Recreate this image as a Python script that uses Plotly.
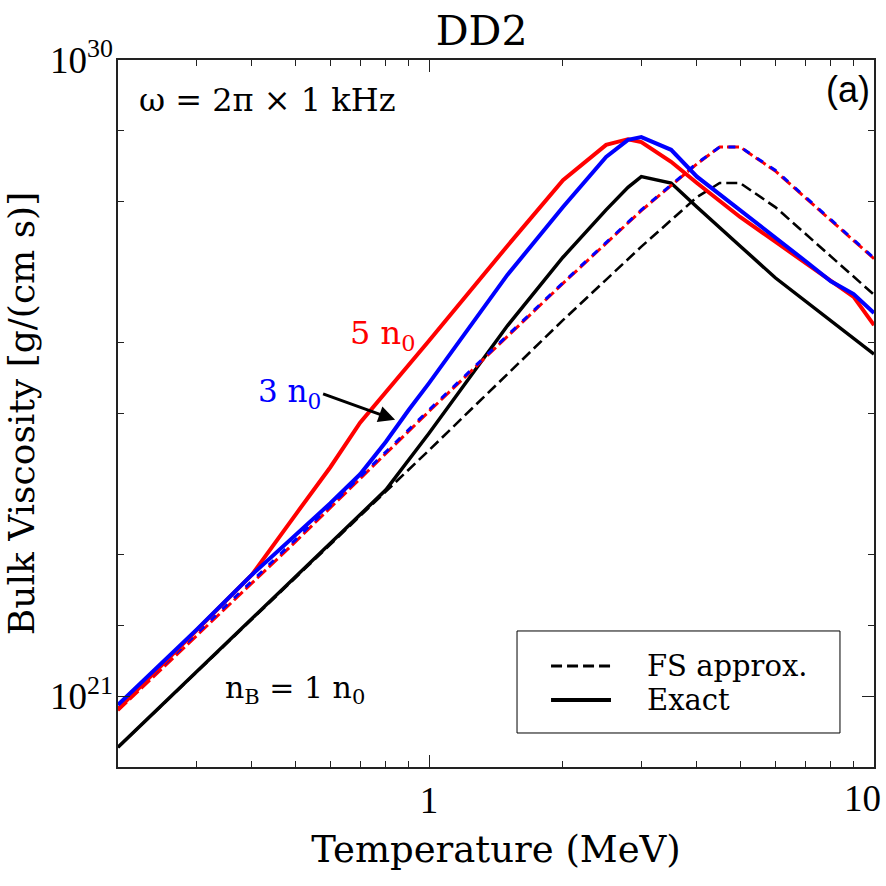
import numpy as np
import plotly.graph_objects as go

# ---------------- data ----------------
# Temperature in MeV, bulk viscosity as log10(eta [g/(cm s)])
T_5n0_exact = [0.2, 0.3, 0.4, 0.5, 0.6, 0.7, 0.8, 1.0, 1.5, 2.0, 2.5, 2.8, 3.0, 3.5, 4.0, 5.0, 6.0, 7.0, 8.0, 9.0, 10.0]
log_eta_5n0_exact = [20.82, 21.92, 22.72, 23.56, 24.24, 24.87, 25.30, 26.03, 27.37, 28.30, 28.80, 28.88, 28.84,
                     28.56, 28.26, 27.78, 27.43, 27.13, 26.87, 26.65, 26.25]

T_3n0_exact = [0.2, 0.3, 0.4, 0.5, 0.6, 0.7, 0.8, 0.9, 1.0, 1.5, 2.0, 2.5, 2.8, 3.0, 3.5, 4.0, 5.0, 6.0, 7.0, 8.0, 9.0, 10.0]
log_eta_3n0_exact = [20.88, 21.94, 22.72, 23.27, 23.73, 24.14, 24.60, 25.05, 25.43, 26.96, 27.92, 28.63, 28.87,
                     28.91, 28.73, 28.35, 27.88, 27.48, 27.16, 26.87, 26.69, 26.42]

T_fs = [0.2, 0.5, 1.0, 2.0, 3.0, 4.0, 4.5, 5.0, 6.0, 10.0]
log_eta_5n0_fs = [20.80, 23.18, 25.03, 26.84, 27.87, 28.53, 28.77, 28.77, 28.43, 27.19]
log_eta_3n0_fs = [20.83, 23.21, 25.05, 26.85, 27.88, 28.54, 28.77, 28.77, 28.44, 27.20]

T_1n0_exact = [0.2, 0.5, 0.8, 1.0, 1.5, 2.0, 2.5, 2.8, 3.0, 3.5, 4.0, 5.0, 6.0, 10.0]
log_eta_1n0_exact = [20.28, 22.69, 23.92, 24.72, 26.24, 27.21, 27.88, 28.20, 28.35, 28.26, 27.92, 27.37, 26.92, 25.84]

T_1n0_fs = [0.2, 1.0, 2.0, 3.0, 4.0, 4.5, 5.0, 6.0, 10.0]
log_eta_1n0_fs = [20.28, 24.48, 26.32, 27.36, 28.06, 28.26, 28.26, 27.92, 26.68]

x_tick_vals = [1]
x_tick_text = ["1"]
x_edge_tick_val = 10          # labelled at the right frame edge
x_edge_tick_text = "10"
x_minor_vals = [0.3, 0.4, 0.5, 0.6, 0.7, 0.8, 0.9, 2, 3, 4, 5, 6, 7, 8, 9]
y_tick_vals = [1e21, 1e30]
y_tick_text = ["10<sup>21</sup>", "10<sup>30</sup>"]
y_long_unlabeled = [1e24, 1e27]
y_minor_vals = [1e22, 1e23, 1e25, 1e26, 1e28, 1e29]

legend_labels = ["FS approx.", "Exact"]

FONT = "DejaVu Serif"
TICKFONT = "Liberation Serif"
RED = "#ff0000"
BLUE = "#0000ff"
BLACK = "#000000"
AX = "#222222"


def ev(logs):
    return np.power(10.0, np.array(logs))


fig = go.Figure()

fig.add_trace(go.Scatter(x=T_1n0_fs, y=ev(log_eta_1n0_fs), mode="lines", name="1 n0 FS approx.",
                         line=dict(color=BLACK, width=2.6, dash="11px,5px")))
fig.add_trace(go.Scatter(x=T_1n0_exact, y=ev(log_eta_1n0_exact), mode="lines", name="1 n0 Exact",
                         line=dict(color=BLACK, width=3.5)))
fig.add_trace(go.Scatter(x=T_fs, y=ev(log_eta_5n0_fs), mode="lines", name="5 n0 FS approx.",
                         line=dict(color=RED, width=3, dash="12px,4px")))
fig.add_trace(go.Scatter(x=T_fs, y=ev(log_eta_3n0_fs), mode="lines", name="3 n0 FS approx.",
                         line=dict(color=BLUE, width=3, dash="7px,9px")))
fig.add_trace(go.Scatter(x=T_5n0_exact, y=ev(log_eta_5n0_exact), mode="lines", name="5 n0 Exact",
                         line=dict(color=RED, width=4)))
fig.add_trace(go.Scatter(x=T_3n0_exact, y=ev(log_eta_3n0_exact), mode="lines", name="3 n0 Exact",
                         line=dict(color=BLUE, width=4)))

axis_common = dict(
    showline=True, linecolor=AX, linewidth=1.5, mirror="allticks",
    ticks="inside", tickcolor=AX, tickwidth=1.2, ticklen=12,
    showgrid=False, zeroline=False, automargin=False,
    tickfont=dict(family=TICKFONT, size=37, color=BLACK),
)

fig.update_xaxes(
    type="log", range=[np.log10(0.2), 1.0],
    tickmode="array", tickvals=x_tick_vals, ticktext=x_tick_text,
    minor=dict(tickvals=x_minor_vals, ticks="inside", ticklen=6, tickcolor=AX, tickwidth=1.2),
    ticklabelstandoff=0,
    title=dict(text="Temperature (MeV)", font=dict(family=FONT, size=37, color=BLACK), standoff=16),
    **axis_common,
)
fig.update_yaxes(
    type="log", range=[20, 30],
    tickmode="array", tickvals=y_tick_vals, ticktext=y_tick_text,
    minor=dict(tickvals=y_minor_vals, ticks="inside", ticklen=6, tickcolor=AX, tickwidth=1.2),
    ticklabelstandoff=-4,
    title=dict(text="Bulk Viscosity [g/(cm s)]", font=dict(family=FONT, size=36, color=BLACK), standoff=4),
    **axis_common,
)

shapes = []
# longer unlabeled ticks at 1e24 and 1e27 on both vertical frame sides
for v in y_long_unlabeled:
    lv = np.log10(v)
    shapes.append(dict(type="line", xref="paper", yref="y", x0=0, x1=12 / 756, y0=lv, y1=lv,
                       line=dict(color=AX, width=1.2)))
    shapes.append(dict(type="line", xref="paper", yref="y", x0=1 - 12 / 756, x1=1, y0=lv, y1=lv,
                       line=dict(color=AX, width=1.2)))

# legend box (drawn to match the reference layout)
shapes.append(dict(type="rect", xref="paper", yref="paper", x0=0.5278, x1=0.955, y0=0.0481, y1=0.1924,
                   line=dict(color=BLACK, width=1), fillcolor="white", layer="above"))
shapes.append(dict(type="line", xref="paper", yref="paper", x0=0.5728, x1=0.6521, y0=0.1429, y1=0.1429,
                   line=dict(color=BLACK, width=3, dash="11px,5px")))
shapes.append(dict(type="line", xref="paper", yref="paper", x0=0.5728, x1=0.6521, y0=0.0948, y1=0.0948,
                   line=dict(color=BLACK, width=4)))

annotations = [
    dict(text=x_edge_tick_text, xref="x", yref="paper", x=np.log10(x_edge_tick_val), y=-0.044,
         xanchor="center", yanchor="middle", xshift=-12, showarrow=False,
         font=dict(family=TICKFONT, size=37, color=BLACK)),
    dict(text="\u03c9 = 2\u03c0 \u00d7 1 kHz", xref="paper", yref="paper", x=0.025, y=0.943,
         xanchor="left", yanchor="middle", showarrow=False, font=dict(family=FONT, size=32, color=BLACK)),
    dict(text="(a)", xref="paper", yref="paper", x=0.965, y=0.958,
         xanchor="center", yanchor="middle", showarrow=False,
         font=dict(family="Liberation Sans", size=36, color=BLACK)),
    dict(text="5 n<sub>0</sub>", xref="paper", yref="paper", x=0.3505, y=0.611,
         xanchor="center", yanchor="middle", showarrow=False, font=dict(family=FONT, size=32, color=RED)),
    dict(text="n<sub>B</sub> = 1 n<sub>0</sub>", xref="paper", yref="paper", x=0.234, y=0.109,
         xanchor="center", yanchor="middle", showarrow=False, font=dict(family=FONT, size=30, color=BLACK)),
    dict(text="3 n<sub>0</sub>", xref="x", yref="y", x=np.log10(0.839), y=24.91,
         ax=-72, ay=-26, xanchor="right", yanchor="middle", showarrow=True,
         arrowhead=2, arrowsize=1.1, arrowwidth=3, arrowcolor=BLACK, standoff=0,
         font=dict(family=FONT, size=31, color=BLUE)),
    dict(text=legend_labels[0], xref="paper", yref="paper", x=0.697, y=0.1429,
         xanchor="left", yanchor="middle", showarrow=False, font=dict(family=FONT, size=29, color=BLACK)),
    dict(text=legend_labels[1], xref="paper", yref="paper", x=0.697, y=0.0948,
         xanchor="left", yanchor="middle", showarrow=False, font=dict(family=FONT, size=29, color=BLACK)),
]

fig.update_layout(
    width=886, height=886,
    margin=dict(l=118, r=12, t=60, b=119),
    paper_bgcolor="white", plot_bgcolor="white",
    title=dict(text="DD2", x=0.481, xref="paper", xanchor="center", y=1 - 31 / 886, yanchor="middle",
               font=dict(family=FONT, size=41, color=BLACK)),
    annotations=annotations,
    shapes=shapes,
    showlegend=False,
)

fig.write_html("out.html", config={"displayModeBar": False})
